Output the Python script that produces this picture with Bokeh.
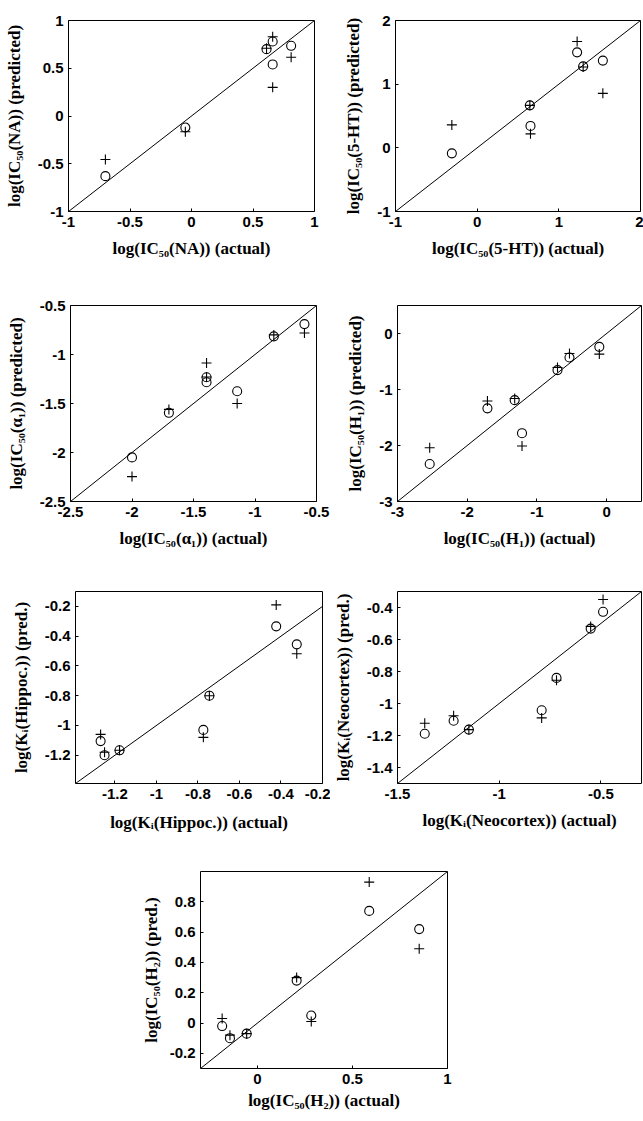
from bokeh.plotting import figure
from bokeh.layouts import column, row
from bokeh.models import FixedTicker, CustomJSTickFormatter, Range1d
from bokeh.embed import file_html
from bokeh.resources import INLINE

# ---- NA uptake inhibition ----
na_actual = [-0.70, -0.05, 0.61, 0.66, 0.66, 0.81]
na_pred_circle = [-0.63, -0.12, 0.70, 0.78, 0.54, 0.735]
na_pred_plus = [-0.455, -0.165, 0.71, 0.83, 0.30, 0.615]
na_ticks = [-1, -0.5, 0, 0.5, 1]

# ---- 5-HT uptake inhibition ----
ht_actual = [-0.31, 0.645, 0.653, 1.224, 1.298, 1.539]
ht_pred_circle = [-0.087, 0.667, 0.344, 1.50, 1.28, 1.37]
ht_pred_plus = [0.36, 0.667, 0.22, 1.67, 1.27, 0.856]
ht_ticks = [-1, 0, 1, 2]

# ---- alpha1 receptor ----
a1_actual = [-2.00, -1.70, -1.394, -1.394, -1.145, -0.847, -0.598]
a1_pred_circle = [-2.05, -1.595, -1.232, -1.283, -1.375, -0.815, -0.69]
a1_pred_plus = [-2.246, -1.56, -1.086, -1.23, -1.50, -0.80, -0.78]
a1_ticks = [-2.5, -2, -1.5, -1, -0.5]

# ---- H1 receptor ----
h1_actual = [-2.538, -1.71, -1.319, -1.214, -0.705, -0.533, -0.105]
h1_pred_circle = [-2.33, -1.337, -1.19, -1.78, -0.654, -0.428, -0.238]
h1_pred_plus = [-2.04, -1.206, -1.16, -2.01, -0.606, -0.357, -0.368]
h1_ticks = [-3, -2, -1, 0]

# ---- Ki hippocampus ----
hip_actual = [-1.269, -1.25, -1.178, -0.774, -0.745, -0.423, -0.324]
hip_pred_circle = [-1.105, -1.20, -1.167, -1.03, -0.80, -0.334, -0.455]
hip_pred_plus = [-1.06, -1.18, -1.167, -1.08, -0.80, -0.19, -0.518]
hip_ticks_x = [-1.2, -1, -0.8, -0.6, -0.4, -0.2]
hip_ticks_y = [-1.2, -1, -0.8, -0.6, -0.4, -0.2]

# ---- Ki neocortex ----
neo_actual = [-1.366, -1.224, -1.149, -0.791, -0.718, -0.55, -0.489]
neo_pred_circle = [-1.189, -1.108, -1.163, -1.042, -0.84, -0.532, -0.427]
neo_pred_plus = [-1.123, -1.077, -1.163, -1.09, -0.855, -0.518, -0.35]
neo_ticks_x = [-1.5, -1, -0.5]
neo_ticks_y = [-1.4, -1.2, -1, -0.8, -0.6, -0.4]

# ---- H2 receptor ----
h2_actual = [-0.186, -0.145, -0.057, 0.206, 0.283, 0.588, 0.851]
h2_pred_circle = [-0.02, -0.10, -0.07, 0.28, 0.05, 0.74, 0.62]
h2_pred_plus = [0.03, -0.08, -0.07, 0.30, 0.01, 0.93, 0.49]
h2_ticks_x = [0, 0.5, 1]
h2_ticks_y = [-0.2, 0, 0.2, 0.4, 0.6, 0.8]

TICK_FONT = "Liberation Sans"
LABEL_FONT = "Liberation Serif"

fmt = CustomJSTickFormatter(code="return String(Math.round(tick*100)/100);")


def panel(xr, yr, xticks, yticks, xlabel, ylabel, actual, pred_c, pred_p,
          width, height, left, right, top, bottom, xstand=9, ystand=11):
    p = figure(width=width, height=height,
               x_range=Range1d(*xr), y_range=Range1d(*yr),
               output_backend="svg", toolbar_location=None,
               min_border_left=left, min_border_right=right,
               min_border_top=top, min_border_bottom=bottom,
               background_fill_color="white", border_fill_color="white")
    p.grid.visible = False
    p.outline_line_color = "black"
    p.outline_line_width = 1
    p.outline_line_alpha = 1

    for ax, ticks, lab, stand in ((p.xaxis[0], xticks, xlabel, xstand),
                                  (p.yaxis[0], yticks, ylabel, ystand)):
        ax.ticker = FixedTicker(ticks=ticks, minor_ticks=[])
        ax.formatter = fmt
        ax.axis_line_color = None
        ax.major_tick_in = 3
        ax.major_tick_out = 0
        ax.major_tick_line_color = "black"
        ax.minor_tick_line_color = None
        ax.major_label_text_font = TICK_FONT
        ax.major_label_text_font_style = "bold"
        ax.major_label_text_font_size = "15px"
        ax.major_label_text_color = "black"
        ax.major_label_standoff = 5
        ax.axis_label = lab
        ax.axis_label_text_font = LABEL_FONT
        ax.axis_label_text_font_style = "bold"
        ax.axis_label_text_font_size = "17px"
        ax.axis_label_text_color = "black"
        ax.axis_label_standoff = stand

    # identity line across the box
    lo = max(xr[0], yr[0])
    hi = min(xr[1], yr[1])
    p.line([lo, hi], [lo, hi], line_color="black", line_width=1)

    p.scatter(actual, pred_c, marker="circle", size=9, fill_color=None,
              line_color="black", line_width=1.1)
    p.scatter(actual, pred_p, marker="cross", size=10,
              line_color="black", line_width=1.1)
    return p


p1 = panel((-1, 1), (-1, 1), na_ticks, na_ticks,
           "log(IC₅₀(NA)) (actual)", "log(IC₅₀(NA)) (predicted)",
           na_actual, na_pred_circle, na_pred_plus,
           330, 290, 68, 16, 16, 79)
p2 = panel((-1, 2), (-1, 2), ht_ticks, ht_ticks,
           "log(IC₅₀(5-HT)) (actual)", "log(IC₅₀(5-HT)) (predicted)",
           ht_actual, ht_pred_circle, ht_pred_plus,
           313, 290, 65, 3, 20, 75)
p3 = panel((-2.5, -0.5), (-2.5, -0.5), a1_ticks, a1_ticks,
           "log(IC₅₀(α₁)) (actual)", "log(IC₅₀(α₁)) (predicted)",
           a1_actual, a1_pred_circle, a1_pred_plus,
           330, 290, 70, 14, 14, 79)
p4 = panel((-3, 0.5), (-3, 0.5), h1_ticks, h1_ticks,
           "log(IC₅₀(H₁)) (actual)", "log(IC₅₀(H₁)) (predicted)",
           h1_actual, h1_pred_circle, h1_pred_plus,
           313, 290, 67, 2, 15, 77)
p5 = panel((-1.39, -0.2), (-1.39, -0.1), hip_ticks_x, hip_ticks_y,
           "log(Kᵢ(Hippoc.)) (actual)", "log(Kᵢ(Hippoc.)) (pred.)",
           hip_actual, hip_pred_circle, hip_pred_plus,
           330, 280, 75, 8, 5, 77, xstand=11)
p6 = panel((-1.5, -0.3), (-1.5, -0.3), neo_ticks_x, neo_ticks_y,
           "log(Kᵢ(Neocortex)) (actual)", "log(Kᵢ(Neocortex)) (pred.)",
           neo_actual, neo_pred_circle, neo_pred_plus,
           313, 280, 66, 2, 11, 71)
p7 = panel((-0.3, 1), (-0.3, 1), h2_ticks_x, h2_ticks_y,
           "log(IC₅₀(H₂)) (actual)", "log(IC₅₀(H₂)) (pred.)",
           h2_actual, h2_pred_circle, h2_pred_plus,
           643, 261, 200, 196, 11, 53, xstand=4, ystand=6)

layout = column(row(p1, p2), row(p3, p4), row(p5, p6), row(p7))

open("out.html", "w").write(file_html(layout, INLINE))
